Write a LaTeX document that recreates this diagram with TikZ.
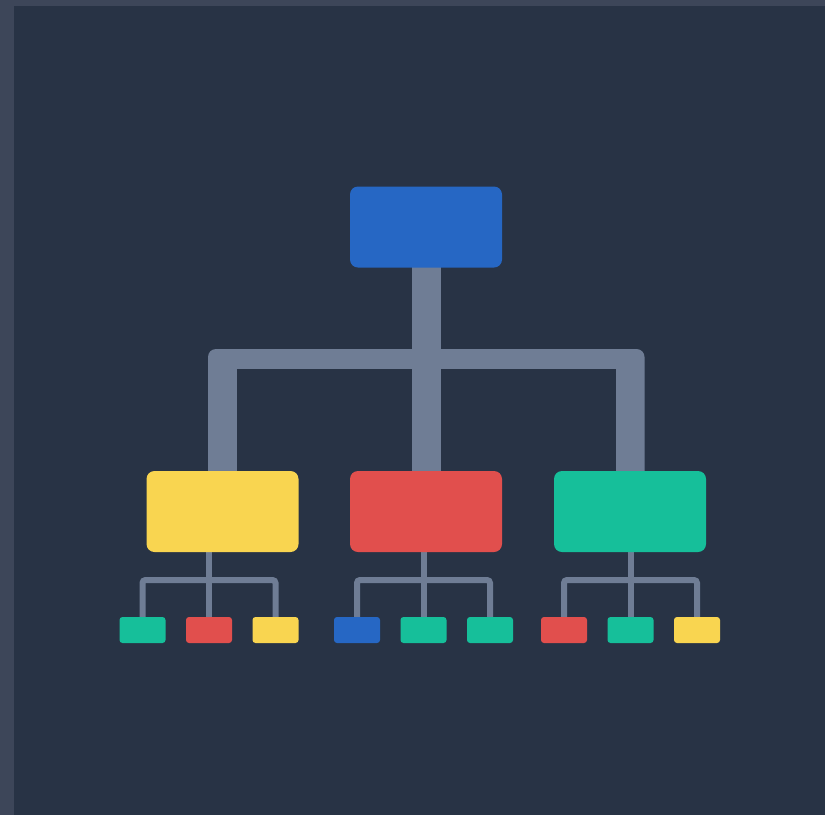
\documentclass[tikz,border=0pt]{standalone}
\usetikzlibrary{positioning}

\definecolor{frame}{RGB}{61,70,89}
\definecolor{pagebg}{RGB}{40,51,69}
\definecolor{wire}{RGB}{111,125,149}
\definecolor{nodeblue}{RGB}{38,103,196}
\definecolor{nodeyellow}{RGB}{249,213,80}
\definecolor{nodered}{RGB}{225,79,77}
\definecolor{nodegreen}{RGB}{22,191,154}

\pgfdeclarelayer{paper}
\pgfdeclarelayer{wires}
\pgfsetlayers{paper,wires,main}

\begin{document}
\begin{tikzpicture}
[x=1pt, y=-1pt, % one unit = one pixel, y running down
every node/.style={inner sep=0pt, outer sep=0pt},
box/.style={fill=#1, rounded corners=8pt, minimum width=152pt, minimum height=81pt},
leaf/.style={fill=#1, rounded corners=3pt, minimum width=46pt, minimum height=26pt},
stem/.style={draw=wire, line width=29pt},
twig/.style={draw=wire, line width=6pt, rounded corners=3pt}]

% page
\begin{pgfonlayer}{paper}
\fill[frame] (0,0) rectangle (825,815);
\fill[pagebg] (14,6) rectangle (825,815);
\end{pgfonlayer}

% boxes
\node[box=nodeblue] (root) at (426,227) {};
\node[box=nodeyellow] (lead1) at (222.5,511.5) {};
\node[box=nodered] (lead2) at (426,511.5) {};
\node[box=nodegreen] (lead3) at (630,511.5) {};
\coordinate (bar) at (426,349);

\node[leaf=nodegreen] (a1) at (142.5,630) {};
\node[leaf=nodered, right=20.5pt of a1] (a2) {};
\node[leaf=nodeyellow, right=20.5pt of a2] (a3) {};
\node[leaf=nodeblue] (b1) at (357,630) {};
\node[leaf=nodegreen, right=20.5pt of b1] (b2) {};
\node[leaf=nodegreen, right=20.5pt of b2] (b3) {};
\node[leaf=nodered] (c1) at (564,630) {};
\node[leaf=nodegreen, right=20.5pt of c1] (c2) {};
\node[leaf=nodeyellow, right=20.5pt of c2] (c3) {};

% connectors
\begin{pgfonlayer}{wires}
\fill[wire, rounded corners=8pt]
  ([xshift=-14.5pt]lead1.center) |- (bar) -| ([xshift=14.5pt]lead3.center) -- cycle;
\fill[pagebg] ([xshift=14.5pt,yshift=-20pt]lead1.center |- bar) rectangle ([xshift=-14.5pt]lead3.center |- lead2.south);
\draw[stem] (root.center) -- (lead2.center);
\foreach \g/\p in {a/lead1,b/lead2,c/lead3} {
  \draw[twig] (\g1.center) |- ([yshift=50pt]\g2.center) -| (\g3.center);
  \draw[twig] (\g2.center) -- (\g2.center |- \p.center);
}
\end{pgfonlayer}
\end{tikzpicture}
\end{document}
